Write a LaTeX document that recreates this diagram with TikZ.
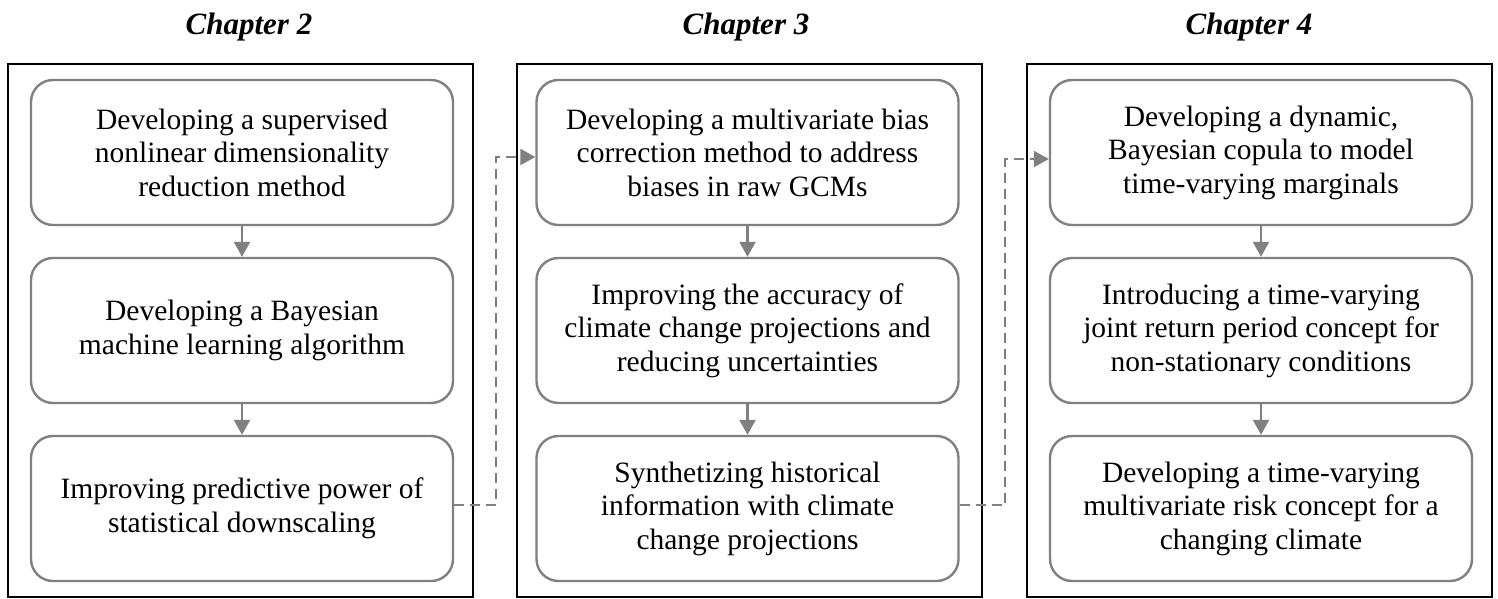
\documentclass[tikz,border=0pt]{standalone}
\usepackage{fontspec}
\setmainfont{Liberation Serif}
\usetikzlibrary{arrows.meta,calc}
\definecolor{boxgray}{HTML}{808080}
\begin{document}
\begin{tikzpicture}[x=1pt,y=-1pt,
  panel/.style={draw=black,line width=2.8pt},
  stepbox/.style={draw=boxgray,line width=2.4pt,rounded corners=22pt,minimum width=422pt,minimum height=145pt,align=center,font=\fontsize{29.5}{33.5}\selectfont,inner sep=0pt},
  chaptitle/.style={font=\fontsize{31}{36}\selectfont\bfseries\itshape,anchor=base},
  flow/.style={draw=boxgray,line width=2.4pt,-{Triangle[width=16pt,length=15pt]}},
  link/.style={draw=boxgray,line width=2.4pt,dash pattern=on 10pt off 6pt,-{Triangle[width=16pt,length=15pt]}}]
\useasboundingbox (0,0) rectangle (1498,599);

% panels
\draw[panel] (8,64) rectangle (473,597);
\draw[panel] (517,64) rectangle (982,597);
\draw[panel] (1027,64) rectangle (1492,597);

% titles
\node[chaptitle] (t2) at (249,35) {Chapter 2};
\node[chaptitle] (t3) at (746,35) {Chapter 3};
\node[chaptitle] (t4) at (1249,35) {Chapter 4};

% chapter 2
\node[stepbox] (p1a) at (242,152.5) {Developing a supervised\\nonlinear dimensionality\\reduction method};
\node[stepbox] (p1b) at (242,330.5) {Developing a Bayesian\\machine learning algorithm};
\node[stepbox] (p1c) at (242,508.5) {Improving predictive power of\\statistical downscaling};

% chapter 3
\node[stepbox] (p2a) at (747.5,152.5) {Developing a multivariate bias\\correction method to address\\biases in raw GCMs};
\node[stepbox] (p2b) at (747.5,330.5) {Improving the accuracy of\\climate change projections and\\reducing uncertainties};
\node[stepbox] (p2c) at (747.5,508.5) {Synthetizing historical\\information with climate\\change projections};

% chapter 4
\node[stepbox] (p3a) at (1261,152.5) {Developing a dynamic,\\Bayesian copula to model\\time-varying marginals};
\node[stepbox] (p3b) at (1261,330.5) {Introducing a time-varying\\joint return period concept for\\non-stationary conditions};
\node[stepbox] (p3c) at (1261,508.5) {Developing a time-varying\\multivariate risk concept for a\\changing climate};

% vertical flows
\draw[flow] (p1a) -- (p1b);
\draw[flow] (p1b) -- (p1c);
\draw[flow] (p2a) -- (p2b);
\draw[flow] (p2b) -- (p2c);
\draw[flow] (p3a) -- (p3b);
\draw[flow] (p3b) -- (p3c);

% dashed links between chapters
\draw[link] ($(p1c.east)+(0,-3.5)$) -- ++(42,0) |- ($(p2a.west)+(0,4.5)$);
\draw[link] ($(p2c.east)+(0,-3.5)$) -- ++(45.5,0) |- ($(p3a.west)+(0,6.5)$);
\end{tikzpicture}
\end{document}
